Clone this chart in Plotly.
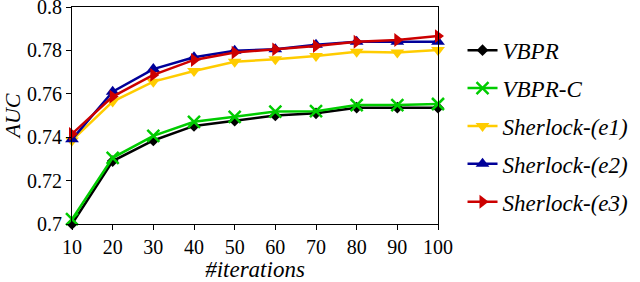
import plotly.graph_objects as go

iterations = [10, 20, 30, 40, 50, 60, 70, 80, 90, 100]
vbpr = [0.7000, 0.7290, 0.7385, 0.7452, 0.7476, 0.7500, 0.7510, 0.7536, 0.7536, 0.7536]
vbpr_c = [0.7022, 0.7305, 0.7406, 0.7471, 0.7494, 0.7518, 0.7520, 0.7548, 0.7548, 0.7553]
sherlock_e1 = [0.7385, 0.7564, 0.7656, 0.7705, 0.7748, 0.7759, 0.7774, 0.7794, 0.7790, 0.7802]
sherlock_e2 = [0.7390, 0.7610, 0.7714, 0.7768, 0.7798, 0.7805, 0.7826, 0.7840, 0.7840, 0.7840]
sherlock_e3 = [0.7415, 0.7587, 0.7687, 0.7756, 0.7790, 0.7805, 0.7820, 0.7840, 0.7848, 0.7866]
y_ticks = [0.7, 0.72, 0.74, 0.76, 0.78, 0.8]
y_tick_labels = ["0.7", "0.72", "0.74", "0.76", "0.78", "0.8"]

series = [
    ("VBPR", vbpr, "#000000", "diamond", 9),
    ("VBPR-C", vbpr_c, "#00CC00", "x-thin-open", 12),
    ("Sherlock-(e1)", sherlock_e1, "#FFCC00", "triangle-down", 12),
    ("Sherlock-(e2)", sherlock_e2, "#000099", "triangle-up", 12),
    ("Sherlock-(e3)", sherlock_e3, "#CC0000", "triangle-right", 12),
]

fig = go.Figure()
for i, (name, ys, color, sym, size) in enumerate(series):
    fig.add_trace(go.Scatter(
        x=iterations, y=ys, name=name, mode="lines+markers",
        line=dict(color=color, width=2.5),
        marker=dict(symbol=sym, size=size, color=color,
                    line=dict(color=color, width=2.5 if sym == "x-thin-open" else 0)),
        cliponaxis=False, legendgroup=f"g{i}",
    ))

FF = "Liberation Serif"
fig.update_layout(
    width=640, height=282,
    margin=dict(l=72, r=202, t=7, b=58),
    plot_bgcolor="white", paper_bgcolor="white",
    font=dict(family=FF, size=20, color="black"),
    showlegend=True,
    legend=dict(
        x=1.067, y=0.9, xanchor="left", yanchor="top",
        font=dict(family=FF, size=23, style="italic", color="black"),
        tracegroupgap=5, bgcolor="rgba(0,0,0,0)",
    ),
    xaxis=dict(
        range=[10, 100], tickvals=iterations, automargin=False,
        tickfont=dict(family=FF, size=20, color="black"),
        showline=True, linecolor="black", linewidth=1, mirror=True,
        ticks="outside", ticklen=5, tickcolor="black", showgrid=False, zeroline=False,
        ticklabeloverflow="allow",
        title=dict(text="#iterations", font=dict(family=FF, size=23, style="italic", color="black"), standoff=5),
    ),
    yaxis=dict(
        range=[0.7, 0.8], tickvals=y_ticks, ticktext=y_tick_labels, automargin=False,
        tickfont=dict(family=FF, size=20, color="black"),
        showline=True, linecolor="black", linewidth=1, mirror=True,
        ticks="outside", ticklen=5, tickcolor="black", showgrid=False, zeroline=False,
        ticklabeloverflow="allow",
        title=dict(text="AUC", font=dict(family=FF, size=22, style="italic", color="black"), standoff=4),
    ),
)

fig.write_html("out.html", config={"displayModeBar": False},
               post_script="document.body.style.margin='0';document.body.style.overflow='hidden';")
